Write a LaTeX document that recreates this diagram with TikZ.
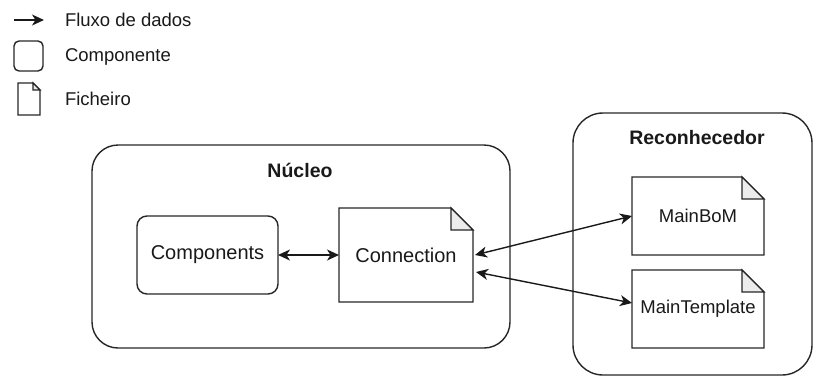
\documentclass[tikz,border=0pt]{standalone}
\usepackage{fontspec}
\setmainfont{Liberation Sans}
\usetikzlibrary{arrows.meta}
\newcommand\notefile[2]{%
  \draw[ln] (#1.south west) -- (#1.north west) -- ([xshift=-#2pt]#1.north east) -- ([yshift=-#2pt]#1.north east) -- (#1.south east) -- cycle;
  \draw[ln, fill=gray!15] ([xshift=-#2pt]#1.north east) -- ([xshift=-#2pt,yshift=-#2pt]#1.north east) -- ([yshift=-#2pt]#1.north east) -- cycle;}
\begin{document}
\begin{tikzpicture}[x=1pt,y=-1pt,
  every node/.style={inner sep=0pt, outer sep=0pt, font=\fontsize{18.5}{22}\selectfont, text=black!90},
  ln/.style={line width=1.4pt, draw=black!85, line join=miter},
  container/.style={ln, rectangle, rounded corners=26pt},
  comp/.style={ln, rectangle, rounded corners=10pt},
  filebox/.style={rectangle},
  big/.style={font=\fontsize{20}{24}\selectfont},
  title/.style={font=\fontsize{19.5}{23}\selectfont\bfseries},
  tip/.tip={Stealth[length=12pt,width=11pt,inset=3.5pt]},
  flow/.style={line width=1.4pt, draw=black!90, -tip},
  biflow/.style={line width=1.4pt, draw=black!90, tip-tip},
  lbl/.style={anchor=west},
]
\useasboundingbox (0,0) rectangle (814,378);

% legend
\coordinate (la) at (14,20);
\coordinate (lb) at (44,20);
\draw[flow] (la) -- (lb);
\node[lbl] (lflow) at (65,20) {Fluxo de dados};
\node[comp, rounded corners=5pt, minimum width=29pt, minimum height=30pt] (lcomp) at (28.5,56) {};
\node[lbl] (lcomptxt) at (65,57) {Componente};
\node[filebox, minimum width=22pt, minimum height=32pt] (lfile) at (29,99) {};
\notefile{lfile}{7}
\node[lbl] (lfiletxt) at (65,99) {Ficheiro};

% containers
\node[container, minimum width=418pt, minimum height=203pt] (nucleo) at (301,246.5) {};
\node[title] (nucleot) at (300,170) {Núcleo};
\node[container, rounded corners=30pt, minimum width=239pt, minimum height=262pt] (recon) at (692.5,244) {};
\node[title] (recont) at (697,138) {Reconhecedor};

% components
\node[comp, big, minimum width=141pt, minimum height=78pt] (comp) at (207.5,255) {Components};
\node[filebox, big, minimum width=134pt, minimum height=94pt] (conn) at (406,255) {Connection};
\notefile{conn}{22}
\node[filebox, minimum width=132pt, minimum height=78pt] (mbom) at (698,216) {MainBoM};
\notefile{mbom}{22}
\node[filebox, minimum width=132pt, minimum height=78pt] (mtpl) at (698,309) {MainTemplate};
\notefile{mtpl}{22}

% connectors
\draw[biflow] (comp.east) -- (conn.west);
\draw[biflow] ([xshift=2pt]conn.east) -- (mbom.west);
\draw[biflow] ([xshift=3pt,yshift=-17pt]conn.east) -- ([yshift=6pt]mtpl.west);
\end{tikzpicture}
\end{document}
